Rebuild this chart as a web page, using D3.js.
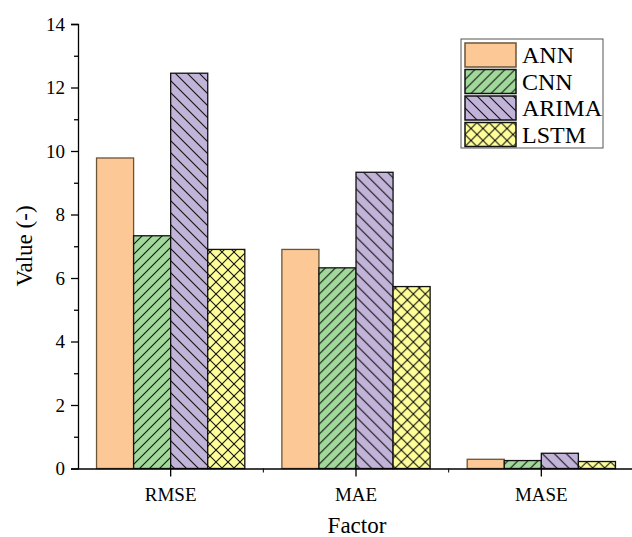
<!DOCTYPE html>
<html lang="en">
<head>
<meta charset="utf-8" />
<title>Factor comparison</title>
<script src="https://d3js.org/d3.v7.min.js"></script>
<style>
    body { margin: 0; background: #fff; }
    svg { display: block; }
    svg text { font-family: "Liberation Serif", "Times New Roman", "DejaVu Serif", serif; }
</style>
</head>
<body>
<svg width="632" height="537"></svg>
<script>
    // chart data
    const factors = ["RMSE", "MAE", "MASE"];
    const models = ["ANN", "CNN", "ARIMA", "LSTM"];
    const ann = [9.78, 6.9, 0.29];
    const cnn = [7.33, 6.32, 0.25];
    const arima = [12.45, 9.33, 0.48];
    const lstm = [6.9, 5.73, 0.22];
    const yTicks = [0, 2, 4, 6, 8, 10, 12, 14];

    const values = { ANN: ann, CNN: cnn, ARIMA: arima, LSTM: lstm };
    const fills = { ANN: "#fcc896", CNN: "#a1d99b", ARIMA: "#c2b3d8", LSTM: "#ffff99" };
    const strokes = { ANN: "#6b5538", CNN: "#111", ARIMA: "#111", LSTM: "#111" };
    const serif = "'Liberation Serif', 'Times New Roman', serif";

    const svg = d3.select("svg");
    const plotLeft = 78, plotRight = 634, plotTop = 24, plotBottom = 468.5;

    const x0 = d3.scaleBand().domain(factors).range([plotLeft, plotRight]).padding(0);
    const x1 = d3.scaleBand().domain(models).range([0, x0.bandwidth()]).paddingInner(0).paddingOuter(0.5);
    const y = d3.scaleLinear().domain([0, 14]).range([plotBottom, plotTop]);

    // hatch patterns
    const defs = svg.append("defs");
    function hatch(id, size, paths, bg) {
        const p = defs.append("pattern")
            .attr("id", id)
            .attr("patternUnits", "userSpaceOnUse")
            .attr("width", size).attr("height", size);
        p.append("rect").attr("width", size).attr("height", size).attr("fill", bg);
        paths.forEach(d => p.append("path").attr("d", d)
            .attr("stroke", "#111").attr("stroke-width", 1.1).attr("fill", "none"));
    }
    const s1 = 10, s2 = 12, s3 = 12;
    hatch("p-cnn", s1, [`M0,${s1} L${s1},0`, `M-2,2 L2,-2`, `M${s1 - 2},${s1 + 2} L${s1 + 2},${s1 - 2}`], fills.CNN);
    hatch("p-arima", s2, [`M0,0 L${s2},${s2}`, `M-2,${s2 - 2} L2,${s2 + 2}`, `M${s2 - 2},-2 L${s2 + 2},2`], fills.ARIMA);
    hatch("p-lstm", s3, [`M0,0 L${s3},${s3}`, `M0,${s3} L${s3},0`], fills.LSTM);
    const fillOf = { ANN: fills.ANN, CNN: "url(#p-cnn)", ARIMA: "url(#p-arima)", LSTM: "url(#p-lstm)" };

    // bars
    const groups = svg.append("g")
        .selectAll("g")
        .data(factors)
        .join("g")
        .attr("transform", d => `translate(${x0(d)},0)`);

    groups.selectAll("rect")
        .data((f, i) => models.map(m => ({ model: m, value: values[m][i] })))
        .join("rect")
        .attr("x", d => x1(d.model))
        .attr("y", d => y(d.value))
        .attr("width", x1.bandwidth())
        .attr("height", d => y(0) - y(d.value))
        .attr("fill", d => fillOf[d.model])
        .attr("stroke", d => strokes[d.model])
        .attr("stroke-width", 1.3);

    // y axis
    const yAxis = svg.append("g")
        .attr("transform", `translate(${plotLeft},0)`)
        .call(d3.axisLeft(y).tickValues(yTicks).tickSize(7).tickPadding(6))
        .attr("font-family", serif).attr("font-size", 19);
    yAxis.select(".domain").attr("stroke", "#000").attr("stroke-width", 1.3);
    yAxis.selectAll(".tick line").attr("stroke-width", 1.3);
    yAxis.selectAll("text").attr("fill", "#000");
    svg.append("g")
        .attr("transform", `translate(${plotLeft},0)`)
        .call(d3.axisLeft(y).tickValues(d3.range(1, 14, 2)).tickSize(4).tickFormat(""))
        .call(g => g.select(".domain").remove())
        .selectAll(".tick line").attr("stroke-width", 1.3);

    // x axis
    const xAxis = svg.append("g")
        .attr("transform", `translate(0,${plotBottom})`)
        .call(d3.axisBottom(x0).tickSize(8).tickPadding(11).tickSizeOuter(0))
        .attr("font-family", serif).attr("font-size", 19);
    xAxis.select(".domain").attr("stroke-width", 1.5);
    xAxis.selectAll(".tick line").attr("stroke-width", 1.3);
    xAxis.selectAll("text").attr("fill", "#000");
    svg.append("g")
        .attr("transform", `translate(0,${plotBottom})`)
        .call(d3.axisBottom(x0).tickValues(factors.slice(1)).tickSize(4).tickFormat(""))
        .call(g => g.select(".domain").remove())
        .selectAll(".tick").attr("transform", d => `translate(${x0(d)},0)`);

    // axis titles
    svg.append("text")
        .attr("x", 357).attr("y", 533)
        .attr("text-anchor", "middle")
        .attr("font-family", serif)
        .attr("font-size", 23).attr("fill", "#000")
        .text("Factor");
    svg.append("text")
        .attr("transform", "rotate(-90)")
        .attr("x", -246).attr("y", 32)
        .attr("text-anchor", "middle")
        .attr("font-family", serif)
        .attr("font-size", 23).attr("fill", "#000")
        .text("Value (-)");

    // legend
    const legend = svg.append("g").attr("transform", "translate(461,39)");
    legend.append("rect")
        .attr("width", 142).attr("height", 109)
        .attr("fill", "#fff").attr("stroke", "#555").attr("stroke-width", 1);
    const item = legend.selectAll("g.item")
        .data(models)
        .join("g")
        .attr("class", "item")
        .attr("transform", (d, i) => `translate(4,${4 + i * 26.5})`);
    item.append("rect")
        .attr("width", 51).attr("height", 24)
        .attr("fill", d => fillOf[d])
        .attr("stroke", d => strokes[d])
        .attr("stroke-width", 1.5);
    item.append("text")
        .attr("x", 57).attr("y", 20)
        .attr("font-family", serif)
        .attr("font-size", 24).attr("fill", "#000")
        .text(d => d);
</script>
</body>
</html>
